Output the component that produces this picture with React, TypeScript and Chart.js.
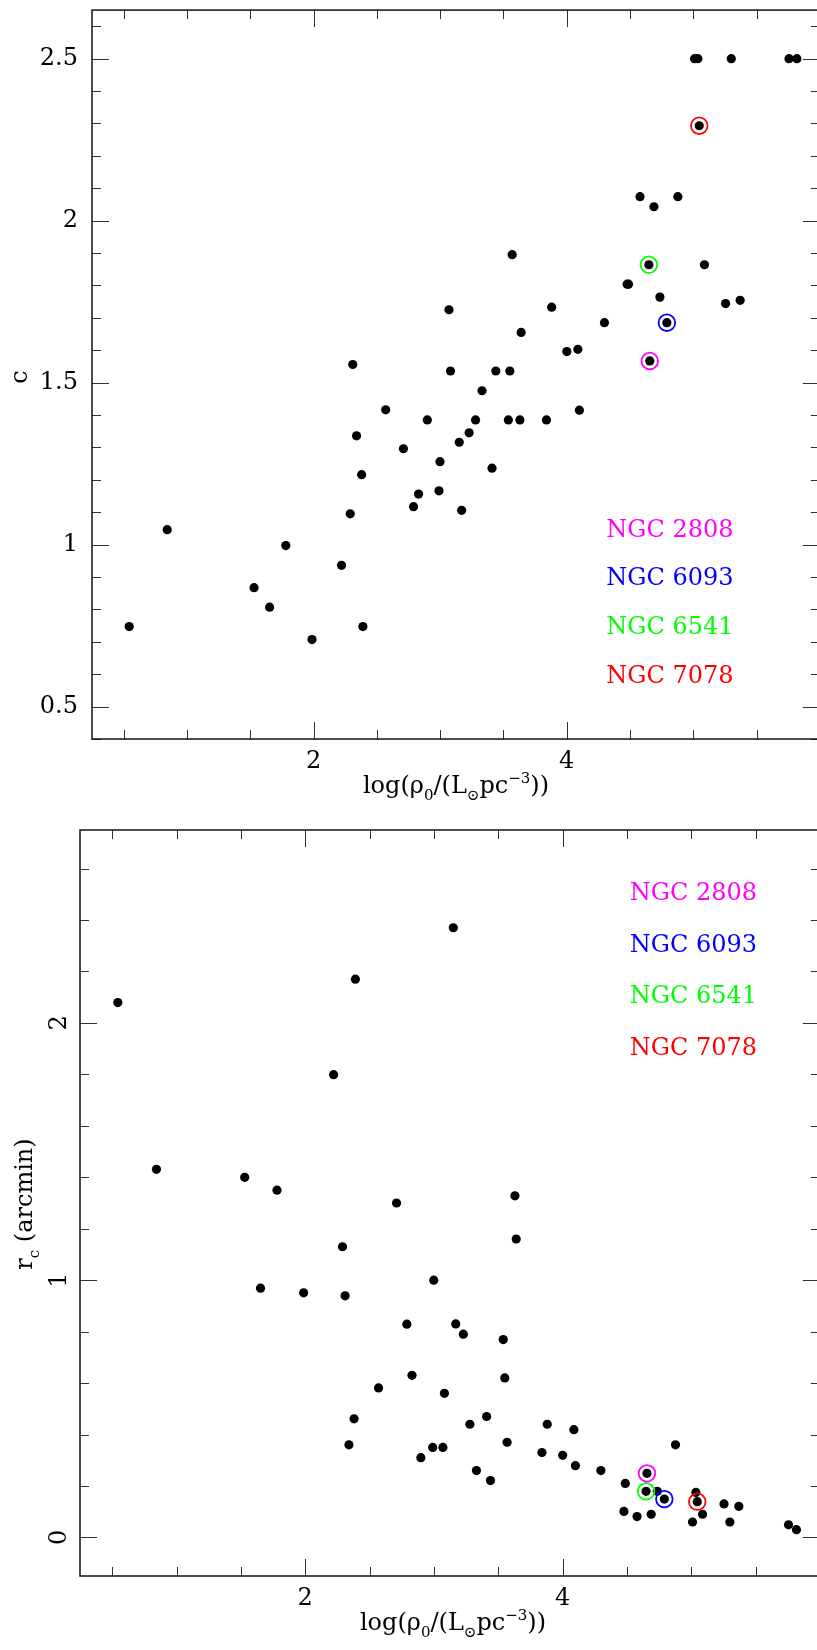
import React, { useEffect, useRef } from "react";
import { Chart, registerables } from "chart.js";

Chart.register(...registerables);

// ---------------- data ----------------
const logRho = [
  0.544, 0.844, 1.53, 1.653, 1.781, 1.988, 2.221, 2.29, 2.31, 2.34, 2.38, 2.39,
  2.57, 2.71, 2.79, 2.83, 2.899, 2.991, 2.999, 3.07, 3.082, 3.151, 3.17, 3.229,
  3.28, 3.331, 3.41, 3.44, 3.539, 3.551, 3.569, 3.63, 3.64, 3.84, 3.881, 4.001,
  4.088, 4.1, 4.298, 4.477, 4.488, 4.579, 4.649, 4.656, 4.689, 4.736, 4.791,
  4.878, 5.01, 5.036, 5.047, 5.088, 5.255, 5.3, 5.37, 5.756, 5.818,
];

const concentration = [
  0.747, 1.046, 0.867, 0.807, 0.997, 0.707, 0.936, 1.095, 1.556, 1.336, 1.216,
  0.747, 1.416, 1.296, 1.117, 1.156, 1.385, 1.166, 1.256, 1.725, 1.536, 1.316,
  1.106, 1.345, 1.385, 1.475, 1.236, 1.536, 1.385, 1.536, 1.895, 1.385, 1.655,
  1.385, 1.733, 1.596, 1.603, 1.415, 1.685, 1.804, 1.804, 2.074, 1.864, 1.567,
  2.043, 1.764, 1.685, 2.074, 2.5, 2.5, 2.293, 1.864, 1.744, 2.5, 1.754, 2.5, 2.5,
];

const coreRadius = [
  2.079, 1.431, 1.4, 0.969, 1.35, 0.951, 1.799, 1.13, 0.939, 0.36, 0.461, 2.17,
  0.581, 1.3, 0.829, 0.63, 0.31, 0.35, 1.0, 0.35, 0.56, 2.37, 0.83, 0.79, 0.44,
  0.26, 0.47, 0.221, 0.769, 0.62, 0.37, 1.328, 1.16, 0.33, 0.44, 0.319, 0.419,
  0.279, 0.26, 0.101, 0.21, 0.081, 0.179, 0.249, 0.09, 0.179, 0.149, 0.36, 0.06,
  0.175, 0.139, 0.09, 0.13, 0.06, 0.121, 0.049, 0.03,
];

const highlightNames = ["NGC 2808", "NGC 6093", "NGC 6541", "NGC 7078"];
const highlightColors = ["#ff00ff", "#0000ff", "#00ff00", "#ff0000"];
const highlightIndex = [43, 46, 42, 50];

const xTickLabels = [2, 4];
const cTickLabels = [0.5, 1, 1.5, 2, 2.5];
const rcTickLabels = [0, 1, 2];

// ---------------- styling / layout ----------------
const FONT = '"DejaVu Serif", "Liberation Serif", serif';
const FONT_SIZE = 24;

type Seg = { t: string; sub?: boolean; sup?: boolean };

const xTitle: Seg[] = [
  { t: "log(\u03c1" },
  { t: "0", sub: true },
  { t: "/(L" },
  { t: "\u2299", sub: true },
  { t: "pc" },
  { t: "\u22123", sup: true },
  { t: "))" },
];
const cTitle: Seg[] = [{ t: "c" }];
const rcTitle: Seg[] = [{ t: "r" }, { t: "c", sub: true }, { t: " (arcmin)" }];

function drawRich(ctx: CanvasRenderingContext2D, segs: Seg[], x: number, y: number) {
  const small = Math.round(FONT_SIZE * 0.64);
  let total = 0;
  for (const s of segs) {
    ctx.font = `${s.sub || s.sup ? small : FONT_SIZE}px ${FONT}`;
    total += ctx.measureText(s.t).width;
  }
  let cx = x - total / 2;
  ctx.textAlign = "left";
  ctx.textBaseline = "alphabetic";
  for (const s of segs) {
    const fs = s.sub || s.sup ? small : FONT_SIZE;
    ctx.font = `${fs}px ${FONT}`;
    const dy = s.sub ? FONT_SIZE * 0.28 : s.sup ? -FONT_SIZE * 0.42 : 0;
    ctx.fillText(s.t, cx, y + dy);
    cx += ctx.measureText(s.t).width;
  }
}

type PanelCfg = {
  w: number;
  h: number;
  padTop: number;
  padRight: number;
  yAxisW: number;
  xAxisH: number;
  xMin: number;
  xMax: number;
  yMin: number;
  yMax: number;
  yValues: number[];
  yTickLabels: number[];
  xMinor: number;
  xMajor: number;
  yMinor: number;
  yMajor: number;
  yRotated: boolean;
  yLabelPad: number;
  yTitle: Seg[];
  yTitleX: number;
  yTitleY: number;
  xTitleX: number;
  xTitleY: number;
  legendX: number;
  legendY: number;
  legendStep: number;
};

const topCfg: PanelCfg = {
  w: 830,
  h: 812,
  padTop: 7,
  padRight: 5,
  yAxisW: 92,
  xAxisH: 73,
  xMin: 0.25,
  xMax: 6.0,
  yMin: 0.4,
  yMax: 2.65,
  yValues: concentration,
  yTickLabels: cTickLabels,
  xMinor: 0.5,
  xMajor: 2,
  yMinor: 0.1,
  yMajor: 0.5,
  yRotated: false,
  yLabelPad: 14,
  yTitle: cTitle,
  yTitleX: 27,
  yTitleY: 377,
  xTitleX: 456,
  xTitleY: 793,
  legendX: 4.313,
  legendY: 1.024,
  legendStep: 0.15,
};

const bottomCfg: PanelCfg = {
  w: 830,
  h: 838,
  padTop: 18,
  padRight: 4,
  yAxisW: 80,
  xAxisH: 74,
  xMin: 0.25,
  xMax: 6.0,
  yMin: -0.15,
  yMax: 2.75,
  yValues: coreRadius,
  yTickLabels: rcTickLabels,
  xMinor: 0.5,
  xMajor: 2,
  yMinor: 0.2,
  yMajor: 1,
  yRotated: true,
  yLabelPad: 13,
  yTitle: rcTitle,
  yTitleX: 32,
  yTitleY: 392,
  xTitleX: 453,
  xTitleY: 818,
  legendX: 4.522,
  legendY: 2.478,
  legendStep: 0.201,
};

function tickValues(min: number, max: number, step: number) {
  const out: number[] = [];
  const k0 = Math.ceil(min / step - 1e-9);
  for (let k = k0; k * step <= max + 1e-9; k++) out.push(+(k * step).toFixed(6));
  return out;
}

function isMajor(v: number, major: number) {
  const r = v / major;
  return Math.abs(r - Math.round(r)) < 1e-6;
}

function Panel({ cfg }: { cfg: PanelCfg }) {
  const ref = useRef<HTMLCanvasElement>(null);

  useEffect(() => {
    const canvas = ref.current;
    if (!canvas) return;

    const points = logRho.map((x, i) => ({ x, y: cfg.yValues[i] }));

    const highlightSets = highlightIndex.map((idx, k) => ({
      data: [{ x: logRho[idx], y: cfg.yValues[idx] }],
      pointRadius: 8.3,
      pointBorderWidth: 1.8,
      pointBorderColor: highlightColors[k],
      pointBackgroundColor: "rgba(0,0,0,0)",
      showLine: false,
    }));

    const framePlugin = {
      id: "pgFrame",
      afterDraw(chart: any) {
        const ctx: CanvasRenderingContext2D = chart.ctx;
        const { left, right, top, bottom } = chart.chartArea;
        const xs = chart.scales.x;
        const ys = chart.scales.y;
        ctx.save();
        // tick marks on all four sides
        ctx.strokeStyle = "#333";
        ctx.lineWidth = 1;
        ctx.beginPath();
        for (const v of tickValues(cfg.xMin, cfg.xMax, cfg.xMinor)) {
          const px = Math.round(xs.getPixelForValue(v)) + 0.5;
          const len = isMajor(v, cfg.xMajor) ? 17 : 9;
          ctx.moveTo(px, bottom);
          ctx.lineTo(px, bottom - len);
          ctx.moveTo(px, top);
          ctx.lineTo(px, top + len);
        }
        for (const v of tickValues(cfg.yMin, cfg.yMax, cfg.yMinor)) {
          const py = Math.round(ys.getPixelForValue(v)) + 0.5;
          const len = isMajor(v, cfg.yMajor) ? 17 : 9;
          ctx.moveTo(left, py);
          ctx.lineTo(left + len, py);
          ctx.moveTo(right, py);
          ctx.lineTo(right - len, py);
        }
        ctx.stroke();
        // frame
        ctx.strokeStyle = "#111";
        ctx.lineWidth = 1.5;
        ctx.strokeRect(left, top, right - left, bottom - top);

        // axis titles
        ctx.fillStyle = "#000";
        drawRich(ctx, xTitle, cfg.xTitleX, cfg.xTitleY);
        ctx.save();
        ctx.translate(cfg.yTitleX, cfg.yTitleY);
        ctx.rotate(-Math.PI / 2);
        drawRich(ctx, cfg.yTitle, 0, 0);
        ctx.restore();

        // coloured legend text
        ctx.font = `${FONT_SIZE}px ${FONT}`;
        ctx.textAlign = "left";
        ctx.textBaseline = "alphabetic";
        highlightNames.forEach((name, k) => {
          ctx.fillStyle = highlightColors[k];
          const lx = xs.getPixelForValue(cfg.legendX);
          const ly = ys.getPixelForValue(cfg.legendY - k * cfg.legendStep);
          ctx.fillText(name, lx, ly);
        });
        ctx.restore();
      },
    };

    const chart = new Chart(canvas, {
      type: "scatter",
      data: {
        datasets: [
          ...highlightSets,
          {
            data: points,
            pointRadius: 4.6,
            pointBorderWidth: 0,
            pointBackgroundColor: "#000",
            pointBorderColor: "#000",
            showLine: false,
          },
        ],
      },
      options: {
        animation: false,
        responsive: false,
        devicePixelRatio: 1,
        events: [],
        layout: { padding: { left: 0, top: cfg.padTop, right: cfg.padRight, bottom: 0 } },
        plugins: {
          legend: { display: false },
          tooltip: { enabled: false },
          title: { display: false },
        },
        scales: {
          x: {
            type: "linear",
            position: "bottom",
            min: cfg.xMin,
            max: cfg.xMax,
            grid: { display: false, drawTicks: false },
            border: { display: false },
            afterBuildTicks: (axis: any) => {
              axis.ticks = xTickLabels.map((v) => ({ value: v }));
            },
            afterFit: (axis: any) => {
              axis.height = cfg.xAxisH;
              axis.paddingLeft = 0;
              axis.paddingRight = 0;
            },
            ticks: {
              autoSkip: false,
              maxRotation: 0,
              minRotation: 0,
              padding: 8,
              color: "#000",
              font: { family: FONT, size: FONT_SIZE },
              callback: (v: any) => String(v),
            },
          },
          y: {
            type: "linear",
            position: "left",
            min: cfg.yMin,
            max: cfg.yMax,
            grid: { display: false, drawTicks: false },
            border: { display: false },
            afterBuildTicks: (axis: any) => {
              axis.ticks = cfg.yTickLabels.map((v) => ({ value: v }));
            },
            afterFit: (axis: any) => {
              axis.width = cfg.yAxisW;
              axis.paddingTop = 0;
              axis.paddingBottom = 0;
            },
            ticks: {
              autoSkip: false,
              minRotation: cfg.yRotated ? 90 : 0,
              maxRotation: cfg.yRotated ? 90 : 0,
              crossAlign: cfg.yRotated ? "center" : "near",
              padding: cfg.yLabelPad,
              color: "#000",
              font: { family: FONT, size: FONT_SIZE },
              callback: (v: any) => String(v),
            },
          },
        },
      } as any,
      plugins: [framePlugin],
    });

    return () => chart.destroy();
  }, [cfg]);

  return (
    <canvas
      ref={ref}
      width={cfg.w}
      height={cfg.h}
      style={{ display: "block", width: cfg.w, height: cfg.h }}
    />
  );
}

export default function App() {
  return (
    <div
      style={{
        position: "absolute",
        left: 0,
        top: 0,
        width: 817,
        height: 1650,
        overflow: "hidden",
        background: "#fff",
      }}
    >
      <Panel cfg={topCfg} />
      <Panel cfg={bottomCfg} />
    </div>
  );
}
